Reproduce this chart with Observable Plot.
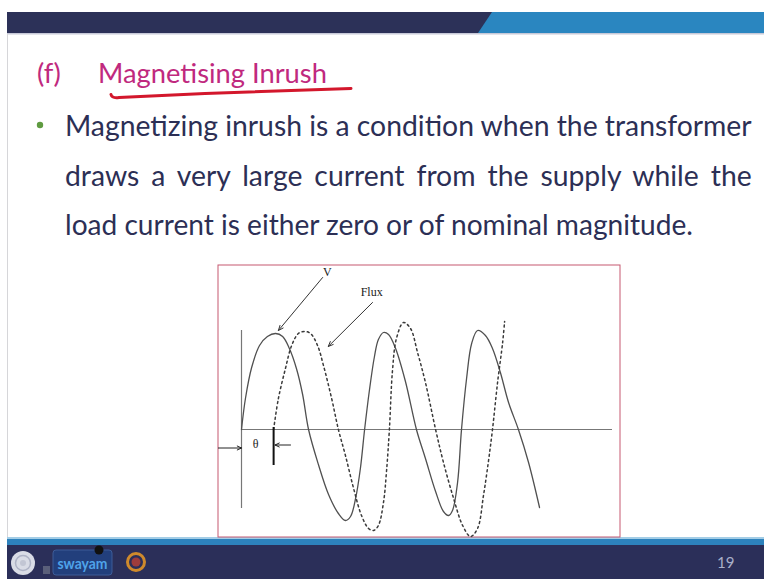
<!DOCTYPE html>
<html>
<head>
<meta charset="utf-8">
<script src="https://cdn.jsdelivr.net/npm/d3@7"></script>
<script src="https://cdn.jsdelivr.net/npm/@observablehq/plot@0.6"></script>
<style>
  html, body { margin: 0; padding: 0; background: #fff; }
  #slide { position: relative; width: 764px; height: 579px; overflow: hidden; background: #fff; }
  #deco { position: absolute; left: 0; top: 0; }
  #chart { position: absolute; left: 217px; top: 264px; }
  .body { font-family: Lato, "Open Sans", sans-serif; font-size: 29px; fill: #2c2f55; }
  .title { font-family: Lato, "Open Sans", sans-serif; font-size: 27px; fill: #c0297e; }
</style>
</head>
<body>
<div id="slide">
  <svg id="deco" width="764" height="579">
    <!-- header band -->
    <rect x="7" y="12" width="757" height="21" fill="#2c3158"/>
    <polygon points="478,33 492,12 764,12 764,33" fill="#2a86c0"/>
    <rect x="7" y="33" width="757" height="1.5" fill="#c7c9d8"/>
    <line x1="7.5" y1="34" x2="7.5" y2="537" stroke="#d6d6d9" stroke-width="1"/>

    <!-- heading -->
    <text id="tF" class="title" x="37" y="83">(f)</text>
    <text id="tMain" class="title">Magnetising Inrush</text>
    <path d="M111,94.5 Q112,98.5 119,97.5 L205,93.5 Q285,90.5 351,88.5" fill="none" stroke="#d3172c" stroke-width="3" stroke-linecap="round"/>

    <!-- bullet point -->
    <circle cx="40" cy="125" r="3.2" fill="#5f9b40"/>
    <text id="l1" class="body">Magnetizing inrush is a condition when the transformer</text>
    <text id="l2" class="body">draws a very large current from the supply while the</text>
    <text id="l3" class="body">load current is either zero or of nominal magnitude.</text>

    <!-- footer band -->
    <rect x="7" y="537" width="757" height="2" fill="#a3cde6"/>
    <rect x="7" y="539" width="757" height="6" fill="#2d82bd"/>
    <rect x="7" y="545" width="757" height="34" fill="#2b2f59"/>
    <circle cx="23" cy="563" r="12" fill="#d9dce6"/>
    <circle cx="23" cy="563" r="7.5" fill="none" stroke="#aeb3c6" stroke-width="1.5"/>
    <circle cx="23" cy="563" r="3" fill="#c2c6d4"/>
    <rect x="43" y="566" width="7" height="8" fill="#5a5f7a"/>
    <rect x="53" y="550" width="59" height="25" rx="3" fill="#223f7c" stroke="#3d5c98"/>
    <text x="82.5" y="569" text-anchor="middle" font-family="Lato, sans-serif" font-weight="bold" font-size="15" fill="#4fa3ea" textLength="50" lengthAdjust="spacingAndGlyphs">swayam</text>
    <circle cx="99" cy="550" r="4.5" fill="#111"/>
    <circle cx="136" cy="562" r="8.5" fill="none" stroke="#cf8a2c" stroke-width="3"/>
    <circle cx="136" cy="562" r="4.5" fill="#9e3c3c"/>
    <text x="717" y="568" font-family="Lato, sans-serif" font-size="15" fill="#a9afc9">19</text>
  </svg>
  <div id="chart"></div>
</div>
<script>
// Supply voltage v(ωt): phase angle in degrees, amplitude in per-unit
const voltageDeg = [0, 14, 36, 64, 92, 121, 146, 170, 195, 217, 238, 273, 309, 344, 369, 387, 405, 422, 437,
  454, 472, 486, 504, 522, 547, 582, 621, 653, 689, 717, 735, 749, 767, 781, 799, 817, 838, 866, 891, 919, 948, 983, 1019, 1058];
const voltageVal = [0, 0.31, 0.62, 0.84, 0.93, 0.96, 0.93, 0.81, 0.61, 0.35, 0, -0.35, -0.65, -0.84, -0.91, -0.87, -0.69, -0.39, 0,
  0.39, 0.73, 0.90, 0.97, 0.95, 0.81, 0.48, 0, -0.29, -0.62, -0.82, -0.86, -0.81, -0.53, 0, 0.51, 0.86, 0.99, 0.94, 0.81, 0.57, 0.27, 0, -0.33, -0.78];

// Core flux φ(ωt), lagging the voltage by θ
const fluxDeg = [114, 131, 156, 178, 202, 224, 245, 270, 291, 320, 344, 369, 398, 426, 451, 469, 486, 504, 515, 525,
  536, 550, 575, 600, 625, 653, 689, 717, 753, 785, 813, 838, 859, 877, 891, 909, 927, 934];
const fluxVal = [0, 0.31, 0.61, 0.84, 0.96, 0.98, 0.96, 0.84, 0.64, 0.31, 0, -0.26, -0.59, -0.86, -0.99, -1.01, -0.96, -0.73, -0.41, 0,
  0.59, 0.91, 1.07, 1.01, 0.77, 0.47, 0, -0.33, -0.69, -0.96, -1.07, -0.99, -0.66, -0.31, 0, 0.47, 0.87, 1.08];

// Axis extents
const timeAxis = [0, 1317];
const valueAxis = [-0.79, 0.99];

// Curve labels and their pointer arrows
const labelText = ["V", "Flux"];
const labelDeg = [305, 462];
const labelVal = [1.57, 1.37];
const pointerFrom = [[288, 1.52], [465, 1.27]];
const pointerTo = [[131, 0.99], [308, 0.83]];

// θ dimension marker
const theta = fluxDeg[0];
const thetaTick = [0.02, -0.36];
const thetaArrows = [
  {x1: -82, x2: 0, y: -0.185},
  {x1: 174, x2: 119, y: -0.155}
];

const voltage = voltageDeg.map((x, i) => ({x, y: voltageVal[i]}));
const flux = fluxDeg.map((x, i) => ({x, y: fluxVal[i]}));
const labels = labelText.map((text, i) => ({text, x: labelDeg[i], y: labelVal[i]}));
const pointers = pointerFrom.map((p, i) => ({x1: p[0], y1: p[1], x2: pointerTo[i][0], y2: pointerTo[i][1]}));

const serif = "'Liberation Serif', 'DejaVu Serif', serif";

const chart = Plot.plot({
  width: 403,
  height: 273,
  margin: 0,
  style: {background: "transparent", overflow: "visible"},
  x: {domain: [0, 1317], range: [24, 395], axis: null},
  y: {domain: [-1, 1], range: [265, 65], axis: null},
  marks: [
    Plot.frame({stroke: "#c65870", strokeWidth: 1, inset: 0.5}),
    Plot.ruleY([0], {x1: timeAxis[0], x2: timeAxis[1], stroke: "#777", strokeWidth: 1.2}),
    Plot.ruleX([0], {y1: valueAxis[0], y2: valueAxis[1], stroke: "#777", strokeWidth: 1.2}),
    Plot.line(voltage, {x: "x", y: "y", curve: "catmull-rom", stroke: "#505050", strokeWidth: 1.3}),
    Plot.line(flux, {x: "x", y: "y", curve: "catmull-rom", stroke: "#3a3a3a", strokeWidth: 1.5, strokeDasharray: "2,3.2"}),
    Plot.ruleX([theta], {y1: thetaTick[0], y2: thetaTick[1], stroke: "#111", strokeWidth: 2}),
    Plot.arrow(thetaArrows, {x1: "x1", y1: "y", x2: "x2", y2: "y", stroke: "#222", strokeWidth: 1, headLength: 7, headAngle: 50}),
    Plot.text(["θ"], {x: 50, y: -0.15, fontFamily: serif, fontSize: 12, fill: "#222"}),
    Plot.arrow(pointers, {x1: "x1", y1: "y1", x2: "x2", y2: "y2", stroke: "#333", strokeWidth: 1, headLength: 8, headAngle: 45}),
    Plot.text(labels, {x: "x", y: "y", text: "text", fontFamily: serif, fontSize: 12, fill: "#222"})
  ]
});
document.getElementById("chart").appendChild(chart);

// Fit the slide text lines to their column widths
function place(el, x, y, s) {
  el.setAttribute("transform", `translate(${x},${y}) scale(${s},1)`);
}
const tMain = document.getElementById("tMain");
const sTitle = 229 / tMain.getComputedTextLength();
place(tMain, 98, 83, sTitle);
const tF = document.getElementById("tF");
tF.removeAttribute("x"); tF.removeAttribute("y");
place(tF, 37, 83, sTitle);

const l1 = document.getElementById("l1");
const l2 = document.getElementById("l2");
const l3 = document.getElementById("l3");
const s1 = 687 / l1.getComputedTextLength();
place(l1, 65, 136, s1);
const s3 = 628 / l3.getComputedTextLength();
place(l3, 65, 235, s3);
const gaps = l2.textContent.split(" ").length - 1;
const extra = (687 / s1 - l2.getComputedTextLength()) / gaps;
l2.setAttribute("word-spacing", extra.toFixed(2));
place(l2, 65, 186, s1);
</script>
</body>
</html>
